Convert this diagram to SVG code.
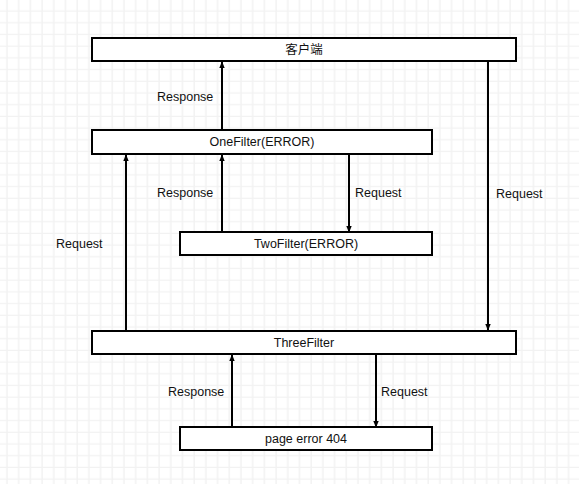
<svg xmlns="http://www.w3.org/2000/svg" width="579" height="484" viewBox="0 0 579 484">
<defs>
<pattern id="grid" width="11.7" height="11.7" patternUnits="userSpaceOnUse" x="1" y="0">
<path d="M6 0V11.7M0 11.2H11.7" stroke="#f2f2f2" stroke-width="1.5" fill="none"/>
</pattern>
<marker id="ah" viewBox="0 0 10 10" refX="9" refY="5" markerWidth="7" markerHeight="7" orient="auto" markerUnits="userSpaceOnUse">
<path d="M0 1L10 5L0 9Z" fill="#000"/>
</marker>
<style>
.box{fill:#fff;stroke:#000;stroke-width:2}
.t{font-family:"Liberation Sans","Noto Sans CJK SC",sans-serif;font-size:12.5px;fill:#111;text-anchor:middle}
.l{font-family:"Liberation Sans",sans-serif;font-size:12.5px;fill:#111}
.c{stroke:#000;stroke-width:2;fill:none;marker-end:url(#ah)}
</style>
</defs>
<rect width="579" height="484" fill="#fff"/>
<rect width="579" height="484" fill="url(#grid)"/>
<g id="connectors">
<path class="c" d="M222 130V62"/>
<path class="c" d="M488 62V330"/>
<path class="c" d="M222 232V155"/>
<path class="c" d="M349 154V232"/>
<path class="c" d="M126 330V155"/>
<path class="c" d="M232 427V355"/>
<path class="c" d="M376 355V427"/>
<text class="l" x="157" y="101">Response</text>
<text class="l" x="157" y="197">Response</text>
<text class="l" x="355" y="197">Request</text>
<text class="l" x="496" y="198">Request</text>
<text class="l" x="56" y="248">Request</text>
<text class="l" x="168" y="396">Response</text>
<text class="l" x="381" y="396">Request</text>
</g>
<g id="client">
<rect class="box" x="92" y="38" width="424" height="23"/>
<text class="t" x="304" y="54">客户端</text>
</g>
<g id="onefilter">
<rect class="box" x="92" y="130" width="340" height="24"/>
<text class="t" x="262" y="146">OneFilter(ERROR)</text>
</g>
<g id="twofilter">
<rect class="box" x="180" y="232" width="252" height="23"/>
<text class="t" x="306" y="248">TwoFilter(ERROR)</text>
</g>
<g id="threefilter">
<rect class="box" x="92" y="331" width="424" height="23"/>
<text class="t" x="304" y="347">ThreeFilter</text>
</g>
<g id="page404">
<rect class="box" x="180" y="427" width="252" height="23"/>
<text class="t" x="306" y="443">page error 404</text>
</g>
</svg>
